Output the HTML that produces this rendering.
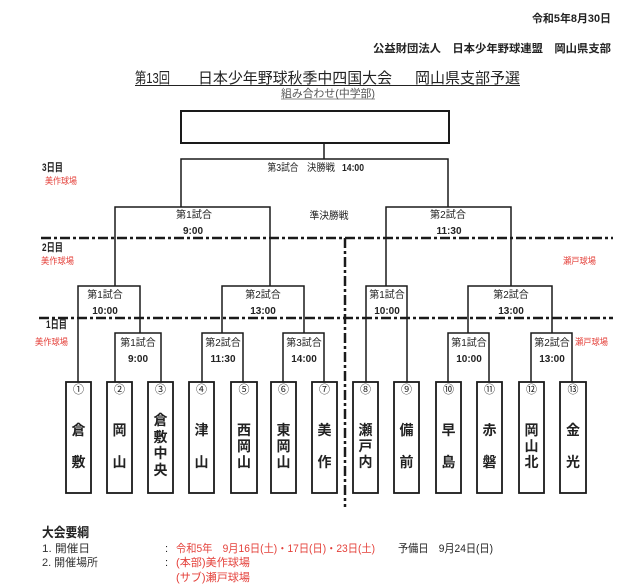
<!DOCTYPE html>
<html><head><meta charset="utf-8"><style>
html,body{margin:0;padding:0;background:#fff;}
svg{display:block;}
text{font-family:"Liberation Sans","Noto Sans CJK JP",sans-serif;fill:#222;}
.r{fill:#e4403a;}
.b{font-weight:bold;}
</style></head><body>
<svg width="640" height="585" viewBox="0 0 640 585" xmlns="http://www.w3.org/2000/svg">
<!-- header -->
<text x="611" y="22" font-size="11" text-anchor="end" class="b" textLength="79" lengthAdjust="spacingAndGlyphs">令和5年8月30日</text>
<text x="373" y="52" font-size="11" class="b" textLength="238" lengthAdjust="spacingAndGlyphs">公益財団法人　日本少年野球連盟　岡山県支部</text>
<text x="135" y="83" font-size="15" textLength="35" lengthAdjust="spacingAndGlyphs">第13回</text>
<text x="198" y="83" font-size="15" textLength="194" lengthAdjust="spacingAndGlyphs">日本少年野球秋季中四国大会</text>
<text x="415" y="83" font-size="15" textLength="105" lengthAdjust="spacingAndGlyphs">岡山県支部予選</text>
<line x1="135" y1="85.5" x2="520" y2="85.5" stroke="#222" stroke-width="1"/>
<text x="281" y="97" font-size="11" style="fill:#555" textLength="94" lengthAdjust="spacingAndGlyphs">組み合わせ(中学部)</text>
<line x1="281" y1="99" x2="375" y2="99" stroke="#666" stroke-width="0.8"/>

<!-- top box -->
<rect x="181" y="111" width="268" height="32" fill="none" stroke="#1a1a1a" stroke-width="2"/>

<!-- dash-dot lines -->
<g stroke="#1a1a1a" stroke-width="2.5" stroke-dasharray="10 3 3 3" fill="none">
<line x1="41" y1="238" x2="613" y2="238"/>
<line x1="39" y1="318" x2="613" y2="318"/>
<line x1="345" y1="238" x2="345" y2="507"/>
</g>

<!-- brackets -->
<g stroke="#1a1a1a" stroke-width="1.5" fill="none">
<path d="M324 143 V159"/>
<path d="M181 207 V159 H448 V207"/>
<path d="M115 286 V207 H270 V286"/>
<path d="M386 286 V207 H511 V286"/>
<path d="M78 382 V286 H140 V333"/>
<path d="M222 333 V286 H304 V333"/>
<path d="M115 382 V333 H161 V382"/>
<path d="M202 382 V333 H243 V382"/>
<path d="M283 382 V333 H324 V382"/>
<path d="M366 382 V286 H407 V382"/>
<path d="M468 333 V286 H552 V333"/>
<path d="M448 382 V333 H489 V382"/>
<path d="M531 382 V333 H572 V382"/>
</g>

<!-- team boxes -->
<g stroke="#1a1a1a" stroke-width="1.8" fill="#fff">
<rect x="66" y="382" width="25" height="111"/>
<rect x="107" y="382" width="25" height="111"/>
<rect x="148" y="382" width="25" height="111"/>
<rect x="189" y="382" width="25" height="111"/>
<rect x="231" y="382" width="26" height="111"/>
<rect x="271" y="382" width="25" height="111"/>
<rect x="312" y="382" width="25" height="111"/>
<rect x="353" y="382" width="25" height="111"/>
<rect x="394" y="382" width="25" height="111"/>
<rect x="436" y="382" width="25" height="111"/>
<rect x="477" y="382" width="25" height="111"/>
<rect x="519" y="382" width="25" height="111"/>
<rect x="560" y="382" width="26" height="111"/>
</g>

<!-- circled numbers -->
<g font-size="11" text-anchor="middle">
<text x="78.5" y="393">①</text>
<text x="119.5" y="393">②</text>
<text x="160.5" y="393">③</text>
<text x="201.5" y="393">④</text>
<text x="244" y="393">⑤</text>
<text x="283.5" y="393">⑥</text>
<text x="324.5" y="393">⑦</text>
<text x="365.5" y="393">⑧</text>
<text x="406.5" y="393">⑨</text>
<text x="448.5" y="393">⑩</text>
<text x="489.5" y="393">⑪</text>
<text x="531.5" y="393">⑫</text>
<text x="573" y="393">⑬</text>
</g>

<!-- team names -->
<g font-size="14" text-anchor="middle" font-weight="bold">
<text x="78.5" y="435">倉</text><text x="78.5" y="467">敷</text>
<text x="119.5" y="435">岡</text><text x="119.5" y="467">山</text>
<text x="160.5" y="425">倉</text><text x="160.5" y="442">敷</text><text x="160.5" y="458">中</text><text x="160.5" y="475">央</text>
<text x="201.5" y="435">津</text><text x="201.5" y="467">山</text>
<text x="244" y="435">西</text><text x="244" y="451">岡</text><text x="244" y="467">山</text>
<text x="283.5" y="435">東</text><text x="283.5" y="451">岡</text><text x="283.5" y="467">山</text>
<text x="324.5" y="435">美</text><text x="324.5" y="467">作</text>
<text x="365.5" y="435">瀬</text><text x="365.5" y="451">戸</text><text x="365.5" y="467">内</text>
<text x="406.5" y="435">備</text><text x="406.5" y="467">前</text>
<text x="448.5" y="435">早</text><text x="448.5" y="467">島</text>
<text x="489.5" y="435">赤</text><text x="489.5" y="467">磐</text>
<text x="531.5" y="435">岡</text><text x="531.5" y="451">山</text><text x="531.5" y="467">北</text>
<text x="573" y="435">金</text><text x="573" y="467">光</text>
</g>

<!-- match labels -->
<g font-size="10" text-anchor="middle">
<text x="283" y="171" textLength="31" lengthAdjust="spacingAndGlyphs">第3試合</text>
<text x="321" y="171" textLength="28" lengthAdjust="spacingAndGlyphs">決勝戦</text>
<text x="353" y="171" class="b" textLength="22" lengthAdjust="spacingAndGlyphs">14:00</text>
<text x="329" y="219" textLength="39" lengthAdjust="spacingAndGlyphs">準決勝戦</text>

<text x="194" y="218" textLength="36" lengthAdjust="spacingAndGlyphs">第1試合</text>
<text x="193" y="234" class="b">9:00</text>
<text x="448" y="218" textLength="36" lengthAdjust="spacingAndGlyphs">第2試合</text>
<text x="449" y="234" class="b">11:30</text>

<text x="105" y="298">第1試合</text>
<text x="105" y="314" class="b">10:00</text>
<text x="263" y="298">第2試合</text>
<text x="263" y="314" class="b">13:00</text>
<text x="387" y="298">第1試合</text>
<text x="387" y="314" class="b">10:00</text>
<text x="511" y="298">第2試合</text>
<text x="511" y="314" class="b">13:00</text>

<text x="138" y="346">第1試合</text>
<text x="138" y="362" class="b">9:00</text>
<text x="223" y="346">第2試合</text>
<text x="223" y="362" class="b">11:30</text>
<text x="304" y="346">第3試合</text>
<text x="304" y="362" class="b">14:00</text>
<text x="469" y="346">第1試合</text>
<text x="469" y="362" class="b">10:00</text>
<text x="552" y="346">第2試合</text>
<text x="552" y="362" class="b">13:00</text>
</g>

<!-- day labels -->
<text x="42" y="171" font-size="11" class="b" textLength="21" lengthAdjust="spacingAndGlyphs">3日目</text>
<text x="45" y="184" font-size="9" class="r" textLength="32" lengthAdjust="spacingAndGlyphs">美作球場</text>
<text x="42" y="251" font-size="11" class="b" textLength="21" lengthAdjust="spacingAndGlyphs">2日目</text>
<text x="41" y="264" font-size="9" class="r" textLength="33" lengthAdjust="spacingAndGlyphs">美作球場</text>
<text x="46" y="328" font-size="11" class="b" textLength="21" lengthAdjust="spacingAndGlyphs">1日目</text>
<text x="35" y="345" font-size="9" class="r" textLength="33" lengthAdjust="spacingAndGlyphs">美作球場</text>
<text x="563" y="264" font-size="9" class="r" textLength="33" lengthAdjust="spacingAndGlyphs">瀬戸球場</text>
<text x="575" y="345" font-size="9" class="r" textLength="33" lengthAdjust="spacingAndGlyphs">瀬戸球場</text>

<!-- bottom -->
<text x="42" y="537" font-size="13" class="b" textLength="47" lengthAdjust="spacingAndGlyphs">大会要綱</text>
<text x="42" y="552" font-size="11" style="fill:#333" textLength="48" lengthAdjust="spacingAndGlyphs">1. 開催日</text>
<text x="42" y="566" font-size="11" style="fill:#333" textLength="56" lengthAdjust="spacingAndGlyphs">2. 開催場所</text>
<text x="165" y="552" font-size="11">:</text>
<text x="165" y="566" font-size="11">:</text>
<text x="176" y="552" font-size="11" class="r" textLength="199" lengthAdjust="spacingAndGlyphs">令和5年　9月16日(土)・17日(日)・23日(土)</text>
<text x="398" y="552" font-size="11" textLength="95" lengthAdjust="spacingAndGlyphs">予備日　9月24日(日)</text>
<text x="176" y="566" font-size="11" class="r" textLength="74" lengthAdjust="spacingAndGlyphs">(本部)美作球場</text>
<text x="176" y="581" font-size="11" class="r" textLength="74" lengthAdjust="spacingAndGlyphs">(サブ)瀬戸球場</text>
</svg>
</body></html>
